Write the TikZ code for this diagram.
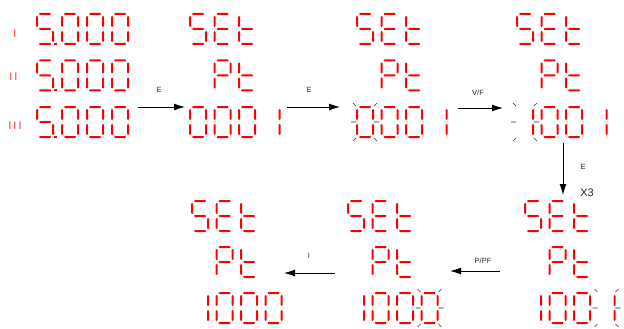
\documentclass[tikz,border=0pt]{standalone}
\usepackage{fontspec}
\setmainfont{Liberation Sans}
\usetikzlibrary{arrows.meta}
\definecolor{segred}{RGB}{255,0,0}
\definecolor{inkgray}{RGB}{40,40,40}

% one horizontal / vertical segment of a seven-segment digit (local units)
\newcommand\hseg[1]{\fill[segred] (2,#1) -- (3,#1-1) -- (13,#1-1) -- (14,#1) -- (13,#1+1) -- (3,#1+1) -- cycle;}
\newcommand\vseg[3]{\fill[segred] (#1,#2) -- (#1+1,#2+1) -- (#1+1,#3-1) -- (#1,#3) -- (#1-1,#3-1) -- (#1-1,#2+1) -- cycle;}
\def\SSa{\hseg{0}}
\def\SSg{\hseg{15}}
\def\SSd{\hseg{30}}
\def\SSf{\vseg{0}{2}{13}}
\def\SSb{\vseg{16}{2}{13}}
\def\SSe{\vseg{0}{17}{28}}
\def\SSc{\vseg{16}{17}{28}}
\def\SSp{\fill[segred] (17.2,28.6) rectangle (19.8,31);}

% a digit at (x,y) lit with the given segments
\newcommand\ssdigit[3]{\begin{scope}[shift={(#1,#2)}]\foreach \s in {#3}{\csname SS\s\endcsname}\end{scope}}
\newcommand\dzero[2]{\ssdigit{#1}{#2}{a,b,c,d,e,f}}
\newcommand\done[2]{\ssdigit{#1}{#2}{b,c}}
\newcommand\dfive[2]{\ssdigit{#1}{#2}{a,f,g,c,d,p}}
\newcommand\dS[2]{\ssdigit{#1}{#2}{a,f,g,c,d}}
\newcommand\dE[2]{\ssdigit{#1}{#2}{a,f,g,e,d}}
\newcommand\dt[2]{\ssdigit{#1}{#2}{f,e,g,d}}
\newcommand\dP[2]{\ssdigit{#1}{#2}{a,b,f,g,e}}

% blinking marks round a digit
\newcommand\ssflash[2]{\begin{scope}[shift={(#1,#2)}]
  \draw[flashmark] (-4,-4) -- (-1,-1) (17,-1) -- (20,-4)
    (-4,34) -- (-1,31) (17,31) -- (20,34)
    (-6,15) -- (-1,15) (17,15) -- (22,15);
\end{scope}}

% the SEt / Pt heading of a display
\newcommand\setpt[3]{\dS{#1}{#2}\dE{#1+24.5}{#2}\dt{#1+49}{#2}\dP{#1+24.5}{#3}\dt{#1+49}{#3}}

\tikzset{
  flashmark/.style={draw=inkgray, line width=0.6pt},
  keyarrow/.style={draw=black, line width=0.9pt, -{Latex[length=11pt,width=7pt]}},
  keylbl/.style={inner sep=0pt, text=inkgray, font=\fontsize{7.5}{8}\selectfont},
  rowlbl/.style={inner sep=0pt, text=segred!80, font=\fontsize{11}{11}\selectfont},
}

\begin{document}
\begin{tikzpicture}[x=1pt,y=-1pt]
\useasboundingbox (0,0) rectangle (624,329);

% input display: three rows of 5.000
\node[rowlbl] (rI) at (15,34) {I};
\node[rowlbl] (rII) at (13.5,77) {I\kern2pt I};
\node[rowlbl] (rIII) at (15,126) {I\kern2pt I\kern2pt I};
\foreach \y in {14,60.5,107}{
  \dfive{37}{\y}\dzero{62}{\y}\dzero{87}{\y}\dzero{112}{\y}
}

% SEt Pt 0001
\setpt{190}{14}{60.5}
\dzero{190}{107}\dzero{214.5}{107}\dzero{239}{107}\done{263.5}{107}

% SEt Pt 0001, first digit blinking
\setpt{357}{14}{60.5}
\dzero{357}{107}\dzero{381.5}{107}\dzero{406}{107}\done{430.5}{107}
\ssflash{357}{107}

% SEt Pt 1001, first digit blinking
\setpt{517}{14}{60.5}
\done{517}{107}\dzero{541.5}{107}\dzero{566}{107}\done{590.5}{107}
\ssflash{517}{107}

% SEt Pt 1001, last digit blinking
\setpt{525}{201}{247}
\done{525}{293}\dzero{549.5}{293}\dzero{574}{293}\done{598.5}{293}
\ssflash{598.5}{293}

% SEt Pt 1000, last digit blinking
\setpt{348}{201}{247}
\done{348}{293}\dzero{372.5}{293}\dzero{397}{293}\dzero{421.5}{293}
\ssflash{421.5}{293}

% SEt Pt 1000
\setpt{192}{201}{247}
\done{192}{293}\dzero{216.5}{293}\dzero{241}{293}\dzero{265.5}{293}

% key presses
\coordinate (k1s) at (138,107); \coordinate (k1t) at (185,107);
\coordinate (k2s) at (287,107); \coordinate (k2t) at (340,107);
\coordinate (k3s) at (458,108); \coordinate (k3t) at (503,108);
\coordinate (k4s) at (563,143); \coordinate (k4t) at (563,195);
\coordinate (k5s) at (500,271); \coordinate (k5t) at (450,271);
\coordinate (k6s) at (335,273); \coordinate (k6t) at (284,273);
\draw[keyarrow] (k1s) -- (k1t);
\draw[keyarrow] (k2s) -- (k2t);
\draw[keyarrow] (k3s) -- (k3t);
\draw[keyarrow] (k4s) -- (k4t);
\draw[keyarrow] (k5s) -- (k5t);
\draw[keyarrow] (k6s) -- (k6t);

\node[keylbl] (l1) at (159,90) {E};
\node[keylbl] (l2) at (309,90) {E};
\node[keylbl] (l3) at (478,93) {V/F};
\node[keylbl] (l4) at (583,167) {E};
\node[keylbl, font=\fontsize{11}{11}\selectfont] (l5) at (587,193) {X3};
\node[keylbl] (l6) at (483,261) {P/PF};
\node[keylbl] (l7) at (309,256) {I};
\end{tikzpicture}
\end{document}
